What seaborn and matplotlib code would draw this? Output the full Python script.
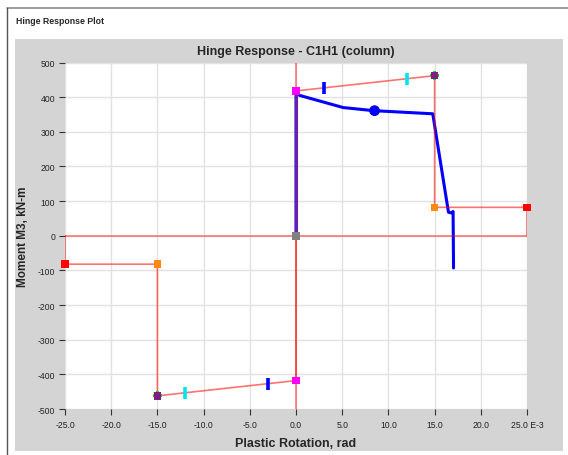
import matplotlib
matplotlib.use("Agg")
import matplotlib.pyplot as plt
from matplotlib.lines import Line2D
from matplotlib.patches import Rectangle
import seaborn as sns
import pandas as pd

# ---- data ----
backbone_x = [-25, -25, -15, -15, 0, 0, 15, 15, 25, 25]
backbone_m = [0, -82, -82, -462, -418, 418, 462, 82, 82, 0]

response_x = [0, 0, 0.4, 5.1, 8.4, 14.8, 16.5, 16.8, 17.0, 17.05]
response_m = [0, 415, 405, 370, 361, 352, 68, 66, 70, -93]

current_x = [8.5]
current_m = [361]

pt_A_x, pt_A_m = [0], [0]
pt_B_x, pt_B_m = [0, 0], [418, -418]
pt_C_x, pt_C_m = [15, -15], [462, -462]
pt_D_x, pt_D_m = [15, -15], [82, -82]
pt_E_x, pt_E_m = [25, -25], [82, -82]
io_x, io_m = [3, -3], [427, -427]
ls_x, ls_m = [12, -12], [453, -453]
cp_x, cp_m = [15, -15], [462, -462]

x_ticks = [-25, -20, -15, -10, -5, 0, 5, 10, 15, 20, 25]
x_labels = ["-25.0", "-20.0", "-15.0", "-10.0", "-5.0", "0.0", "5.0",
            "10.0", "15.0", "20.0", "25.0 E-3"]
y_ticks = [-500, -400, -300, -200, -100, 0, 100, 200, 300, 400, 500]

# ---- style ----
sns.set_style("white")
plt.rcParams['font.family'] = ['Liberation Sans', 'DejaVu Sans']

W, H = 568, 456
fig = plt.figure(figsize=(W / 100, H / 100), dpi=100)
fig.patch.set_facecolor("white")

# outer frame lines
fig.add_artist(Line2D([7 / W, 1.0], [1 - 8.5 / H, 1 - 8.5 / H], color="#8a8a8a", lw=1.2))
fig.add_artist(Line2D([7 / W, 7 / W], [0, 1 - 8.5 / H], color="#555555", lw=1.0))
# gray chart panel
fig.add_artist(Rectangle((15 / W, 1 - 452 / H), 548 / W, 412 / H,
                         transform=fig.transFigure, facecolor="#d4d4d4",
                         edgecolor="none", zorder=0))

fig.text(16 / W, 1 - 21 / H, "Hinge Response Plot", fontsize=6.3, fontweight="bold",
         va="center", ha="left")

ax = fig.add_axes([65 / W, 1 - 410 / H, 462 / W, 346.5 / H])
ax.set_facecolor("white")
ax.set_zorder(1)

ax.grid(True, color="#e2e2e2", lw=1.0)
ax.set_axisbelow(True)

# response path
resp = pd.DataFrame({"x": response_x, "m": response_m})
sns.lineplot(data=resp, x="x", y="m", sort=False, estimator=None, ax=ax,
             color="#0000ff", lw=2.2, zorder=2)

# axis reference lines
ax.axhline(0, color="#ff0000", alpha=0.5, lw=1.2, zorder=3)
ax.axvline(0, color="#ff0000", alpha=0.5, lw=1.2, zorder=3)

# elastic part of the response drawn over the red axis line (purple blend)
sns.lineplot(data=resp.iloc[:2], x="x", y="m", sort=False, estimator=None, ax=ax,
             color="#6a1fa6", lw=2.2, zorder=3.5)

bb = pd.DataFrame({"x": backbone_x, "m": backbone_m})
sns.lineplot(data=bb, x="x", y="m", sort=False, estimator=None, ax=ax,
             color="#ff0000", alpha=0.55, lw=1.2, zorder=3)

# markers
common = dict(ax=ax, edgecolor="none", clip_on=False)
sns.scatterplot(x=cp_x, y=cp_m, marker="P", s=40, color="#22cc22", zorder=4, **common)
sns.scatterplot(x=pt_C_x, y=pt_C_m, marker="s", s=30, color="#7a1f7f", zorder=5, **common)
sns.scatterplot(x=pt_B_x, y=pt_B_m, marker="s", s=30, color="#ff00ff", zorder=5, **common)
sns.scatterplot(x=pt_D_x, y=pt_D_m, marker="s", s=30, color="#ff8a10", zorder=5, **common)
sns.scatterplot(x=pt_E_x, y=pt_E_m, marker="s", s=30, color="#ff0000", zorder=5, **common)
sns.scatterplot(x=pt_A_x, y=pt_A_m, marker="s", s=30, color="#808080", zorder=5, **common)
sns.scatterplot(x=io_x, y=io_m, ax=ax, marker="|", s=70, color="#0000ff",
                linewidth=2.6, zorder=5)
sns.scatterplot(x=ls_x, y=ls_m, ax=ax, marker="|", s=70, color="#00e5f0",
                linewidth=2.6, zorder=5)
sns.scatterplot(x=current_x, y=current_m, marker="o", s=60, color="#0000ff",
                zorder=6, **common)

ax.set_xlim(-25, 25)
ax.set_ylim(-500, 500)
ax.set_xticks(x_ticks)
ax.set_xticklabels(x_labels)
ax.set_yticks(y_ticks)
ax.set_yticklabels([str(v) for v in y_ticks])
ax.tick_params(axis="both", direction="out", length=4, width=0.8, color="#333333",
               labelsize=6.2, labelcolor="#222222")
ax.tick_params(axis="x", pad=4)
ax.tick_params(axis="y", pad=3)
ax.tick_params(axis="both", which="both", bottom=True, left=True)
for s in ax.spines.values():
    s.set_visible(False)

ax.set_title("Hinge Response - C1H1 (column)", fontsize=9, fontweight="bold", pad=6)
ax.set_xlabel("Plastic Rotation, rad", fontsize=9, fontweight="bold", labelpad=6)
ax.set_ylabel("Moment M3, kN-m", fontsize=8.5, fontweight="bold", labelpad=6)

fig.savefig("out.png", dpi=100)
